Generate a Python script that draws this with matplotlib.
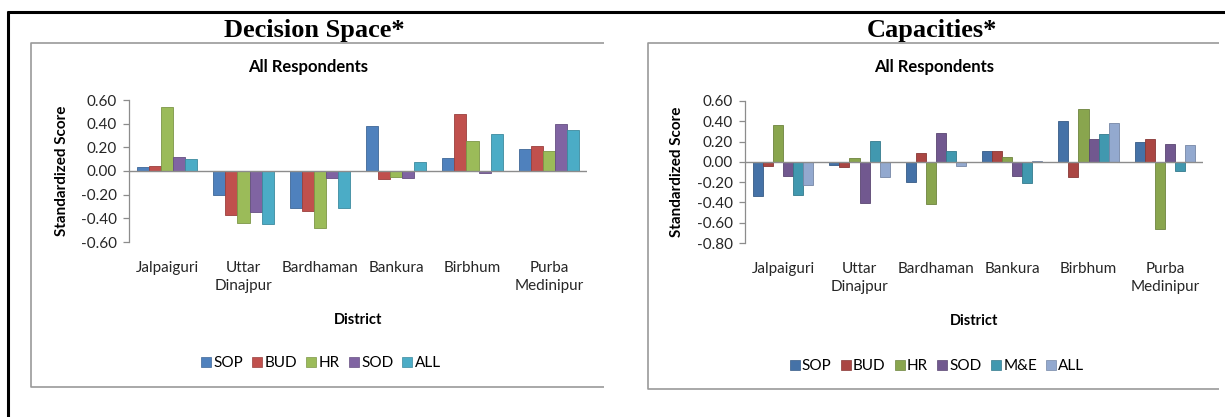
import matplotlib
matplotlib.use("Agg")
import matplotlib.pyplot as plt
from matplotlib.lines import Line2D
from matplotlib.patches import Patch
from matplotlib.colors import to_rgb
import numpy as np

plt.rcParams['font.family'] = ['Lato', 'DejaVu Sans']

# ---- data -------------------------------------------------------------
districts = ["Jalpaiguri", "Uttar\nDinajpur", "Bardhaman", "Bankura",
             "Birbhum", "Purba\nMedinipur"]

# Decision Space* (all respondents)
ds_series = ["SOP", "BUD", "HR", "SOD", "ALL"]
ds_sop = [0.03, -0.20, -0.31, 0.38, 0.11, 0.19]
ds_bud = [0.04, -0.37, -0.34, -0.07, 0.48, 0.21]
ds_hr = [0.54, -0.44, -0.48, -0.05, 0.25, 0.17]
ds_sod = [0.12, -0.35, -0.06, -0.06, -0.02, 0.40]
ds_all = [0.10, -0.45, -0.31, 0.08, 0.31, 0.35]
ds_ticks = [-0.60, -0.40, -0.20, 0.00, 0.20, 0.40, 0.60]
ds_ticklabels = ["-0.60", "-0.40", "-0.20", "0.00", "0.20", "0.40", "0.60"]

# Capacities* (all respondents)
cap_series = ["SOP", "BUD", "HR", "SOD", "M&E", "ALL"]
cap_sop = [-0.34, -0.03, -0.20, 0.11, 0.40, 0.20]
cap_bud = [-0.04, -0.05, 0.09, 0.11, -0.15, 0.23]
cap_hr = [0.36, 0.04, -0.42, 0.05, 0.52, -0.66]
cap_sod = [-0.14, -0.41, 0.28, -0.14, 0.23, 0.18]
cap_me = [-0.33, 0.21, 0.11, -0.21, 0.27, -0.09]
cap_all = [-0.23, -0.15, -0.04, 0.01, 0.38, 0.17]
cap_ticks = [-0.80, -0.60, -0.40, -0.20, 0.00, 0.20, 0.40, 0.60]
cap_ticklabels = ["-0.80", "-0.60", "-0.40", "-0.20", "0.00", "0.20", "0.40", "0.60"]

ds_colors = ["#4F81BD", "#C0504D", "#9BBB59", "#8064A2", "#4BACC6"]
cap_colors = ["#4572A7", "#AA4643", "#89A54E", "#71588F", "#4198AF", "#93A9CF"]

# ---- figure -----------------------------------------------------------
W, H = 1225, 417
fig = plt.figure(figsize=(W / 100, H / 100), dpi=100)
fig.patch.set_facecolor("white")


def fx(px):
    return px / W


def fy(py):
    return 1 - py / H


def fig_line(xs, ys, color, lw):
    fig.add_artist(Line2D([fx(v) for v in xs], [fy(v) for v in ys],
                          color=color, lw=lw, transform=fig.transFigure,
                          solid_capstyle="butt"))


def darker(c, f=0.8):
    r, g, b = to_rgb(c)
    return (r * f, g * f, b * f)


# outer page frame (top and left rules)
fig_line([7, W], [11.5, 11.5], "black", 2.2)
fig_line([8, 8], [11, H], "black", 2.2)

# chart-area boxes
box_gray = "#9a9a9a"
fig_line([604, 31, 31, 604], [43, 43, 387, 387], box_gray, 1.2)
fig_line([1219, 648, 648, 1219], [43, 43, 389, 389], box_gray, 1.2)

# panel headings
fig.text(fx(314), fy(37), "Decision Space*", ha="center", va="baseline",
         fontsize=19, fontweight="bold", family="Liberation Serif")
fig.text(fx(932), fy(37), "Capacities*", ha="center", va="baseline",
         fontsize=19, fontweight="bold", family="Liberation Serif")


def draw_panel(rect, series_names, values, colors, ticks, ticklabels,
               title_x, ylabel_x, legend_xy):
    ax = fig.add_axes(rect)
    n = len(series_names)
    x = np.arange(len(districts))
    group = 0.79
    w = group / n
    for i, (name, vals, col) in enumerate(zip(series_names, values, colors)):
        ax.bar(x + (i - (n - 1) / 2) * w, vals, width=w, color=col,
               edgecolor=darker(col), linewidth=0.6, label=name, zorder=2)
    ax.axhline(0, color="#8c8c8c", lw=1.0, zorder=3)
    ax.set_xlim(-0.5, len(districts) - 0.5)
    ax.set_ylim(ticks[0], ticks[-1])
    ax.set_yticks(ticks)
    ax.set_yticklabels(ticklabels)
    ax.set_xticks(x)
    ax.set_xticklabels(districts, linespacing=1.3)
    for s in ["top", "right", "bottom"]:
        ax.spines[s].set_visible(False)
    ax.spines["left"].set_color("#8c8c8c")
    ax.spines["left"].set_linewidth(0.9)
    ax.tick_params(axis="y", direction="out", length=4, width=0.9,
                   color="#8c8c8c", labelsize=11, labelcolor="#262626", pad=5)
    ax.tick_params(axis="x", length=0, labelsize=11, labelcolor="#262626",
                   pad=14)
    ax.set_facecolor("none")
    ax.set_ylabel("Standardized Score", fontsize=11, fontweight="bold")
    ax.yaxis.set_label_coords(ylabel_x, 0.5)
    ax.text(0.5, -0.55, "District", transform=ax.transAxes, ha="center",
            va="center", fontsize=10.5, fontweight="bold")
    fig.text(fx(title_x), fy(67), "All Respondents", ha="center",
             va="center", fontsize=12, fontweight="bold")
    handles = [Patch(facecolor=c, edgecolor=darker(c), linewidth=0.5)
               for c in colors]
    fig.legend(handles, series_names, loc="center",
               bbox_to_anchor=(fx(legend_xy[0]), fy(legend_xy[1])),
               ncol=n, frameon=False, fontsize=11, handlelength=0.65,
               handleheight=0.65, handletextpad=0.15, columnspacing=0.6,
               borderpad=0)
    return ax


draw_panel([fx(129), fy(242), 458 / W, 142 / H], ds_series,
           [ds_sop, ds_bud, ds_hr, ds_sod, ds_all], ds_colors,
           ds_ticks, ds_ticklabels, 308, -0.131, (321, 363))

draw_panel([fx(745), fy(243), 458 / W, 142 / H], cap_series,
           [cap_sop, cap_bud, cap_hr, cap_sod, cap_me, cap_all], cap_colors,
           cap_ticks, cap_ticklabels, 934, -0.133, (937, 366))

fig.savefig("out.png", dpi=100)
